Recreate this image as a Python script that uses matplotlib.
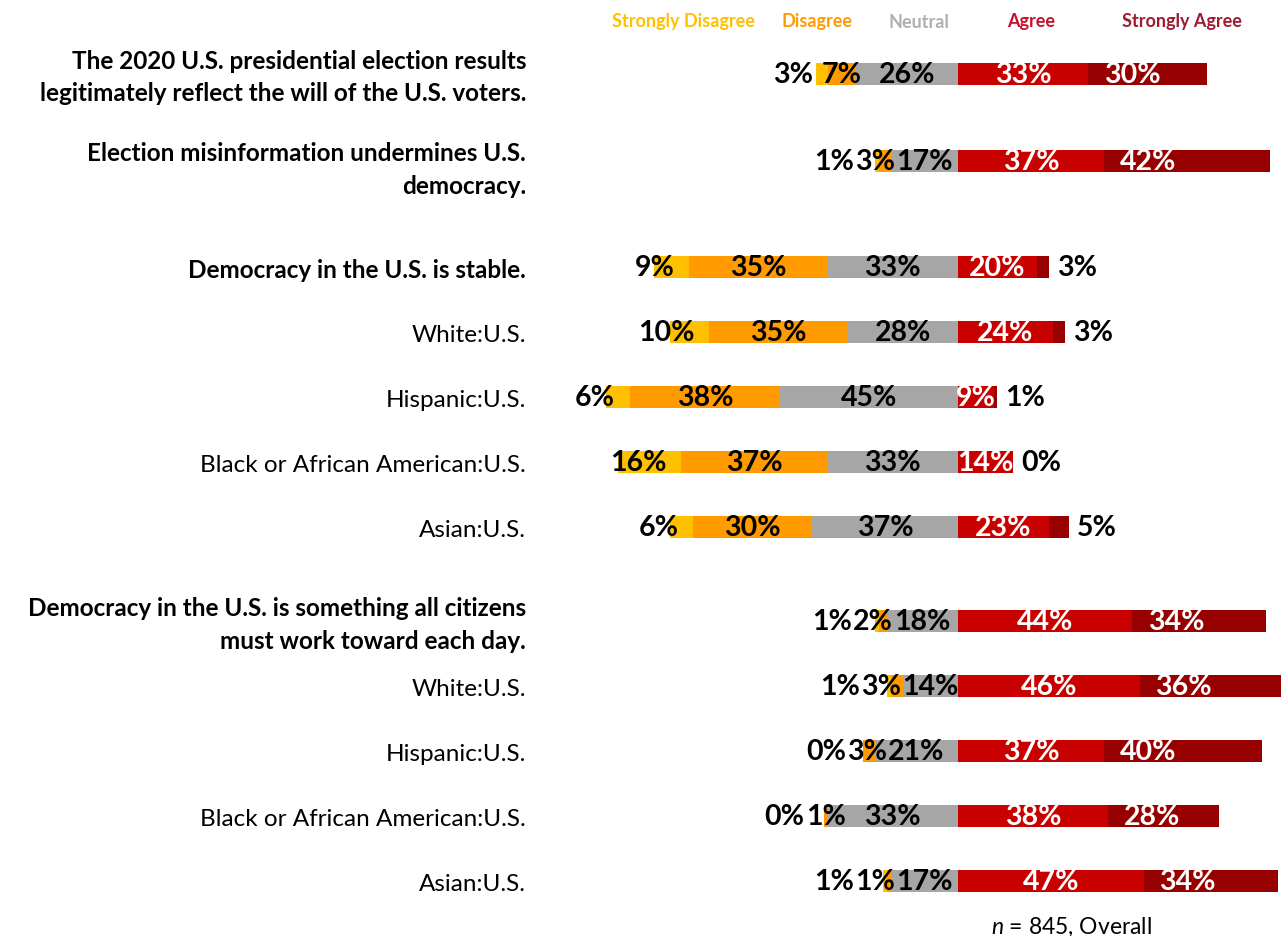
import numpy as np
import matplotlib.pyplot as plt

plt.rcParams['font.family'] = ['Lato', 'DejaVu Sans']
plt.rcParams['mathtext.fontset'] = 'custom'
plt.rcParams['mathtext.it'] = 'Lato:italic'
plt.rcParams['mathtext.rm'] = 'Lato'

# 数据
row_labels = [
    'The 2020 U.S. presidential election results\nlegitimately reflect the will of the U.S. voters.',
    'Election misinformation undermines U.S.\ndemocracy.',
    'Democracy in the U.S. is stable.',
    'White:U.S.',
    'Hispanic:U.S.',
    'Black or African American:U.S.',
    'Asian:U.S.',
    'Democracy in the U.S. is something all citizens\nmust work toward each day.',
    'White:U.S.',
    'Hispanic:U.S.',
    'Black or African American:U.S.',
    'Asian:U.S.',
]
is_question = [True, True, True, False, False, False, False, True, False, False, False, False]

strongly_disagree = [3, 1, 9, 10, 6, 16, 6, 1, 1, 0, 0, 1]
disagree = [7, 3, 35, 35, 38, 37, 30, 2, 3, 3, 1, 1]
neutral = [26, 17, 33, 28, 45, 33, 37, 18, 14, 21, 33, 17]
agree = [33, 37, 20, 24, 9, 14, 23, 44, 46, 37, 38, 47]
strongly_agree = [30, 42, 3, 3, 1, 0, 5, 34, 36, 40, 28, 34]

legend_names = ['Strongly Disagree', 'Disagree', 'Neutral', 'Agree', 'Strongly Agree']
note = '$n$ = 845, Overall'

# 颜色
c_sd, c_d, c_n, c_a, c_sa = '#FFC000', '#FF9A00', '#A6A6A6', '#C80000', '#960000'
legend_colors = ['#FFC000', '#FF9A00', '#AFAFAF', '#C8102E', '#9E1B32']

# 布局
W, H = 1281, 937
px_per_pct = 3.95
center_px = 958
row_px = 65
first_row_px = 75
extra_gap = {0: 0.34, 1: 0.63, 6: 0.45}

y = []
pos = 0.0
for i in range(len(row_labels)):
    y.append(pos)
    pos += 1 + extra_gap.get(i, 0)
y = np.array(y)

sd = np.array(strongly_disagree)
d = np.array(disagree)
n = np.array(neutral)
a = np.array(agree)
sa = np.array(strongly_agree)

fig = plt.figure(figsize=(W / 100, H / 100), dpi=100)
ax = fig.add_axes([0, 0, 1, 1])
ax.set_xlim(-center_px / px_per_pct, (W - center_px) / px_per_pct)
ax.set_ylim((H - first_row_px) / row_px, -first_row_px / row_px)
ax.axis('off')

bh = 22 / row_px
ax.barh(y, sd, left=-(n + d + sd), height=bh, color=c_sd)
ax.barh(y, d, left=-(n + d), height=bh, color=c_d)
ax.barh(y, n, left=-n, height=bh, color=c_n)
ax.barh(y, a, left=0, height=bh, color=c_a)
ax.barh(y, sa, left=a, height=bh, color=c_sa)

# 行标签
label_x = (526 - center_px) / px_per_pct
for i, (yi, lab, q) in enumerate(zip(y, row_labels, is_question)):
    yo = 0.12 if i == 1 else 0.04
    ax.text(label_x, yi + yo, lab, ha='right', va='center', multialignment='right',
            fontsize=17.5, fontweight='bold' if q else 'normal', linespacing=1.5)

# 数值标签
vfs = 20.5
renderer = fig.canvas.get_renderer()
inv = ax.transData.inverted()


def text_width(t):
    bb = t.get_window_extent(renderer)
    x0 = inv.transform((bb.x0, 0))[0]
    x1 = inv.transform((bb.x1, 0))[0]
    return x1 - x0


pad = 15 / px_per_pct
gap = 0.3
for i in range(len(y)):
    # 左侧：中立、不同意、非常不同意
    tn = ax.text(0, y[i], f'{n[i]}%', ha='center', va='center', fontsize=vfs, fontweight='bold')
    td = ax.text(0, y[i], f'{d[i]}%', ha='center', va='center', fontsize=vfs, fontweight='bold')
    ts = ax.text(0, y[i], f'{sd[i]}%', ha='center', va='center', fontsize=vfs, fontweight='bold')
    wn, wd, ws = text_width(tn), text_width(td), text_width(ts)
    cn = -n[i] / 2
    cd = -(n[i] + d[i] / 2)
    cs = -(n[i] + d[i]) - pad - ws / 2
    if cd + wd / 2 > cn - wn / 2 - gap:
        cd = cn - wn / 2 - gap - wd / 2
    if cs + ws / 2 > cd - wd / 2 - gap:
        cs = cd - wd / 2 - gap - ws / 2
    tn.set_x(cn)
    td.set_x(cd)
    ts.set_x(cs)

    # 右侧：同意、非常同意
    ta = ax.text(a[i] / 2, y[i], f'{a[i]}%', ha='center', va='center', fontsize=vfs,
                 fontweight='bold', color='white')
    wa = text_width(ta)
    tsa = ax.text(0, y[i], f'{sa[i]}%', ha='left', va='center', fontsize=vfs, fontweight='bold')
    wsa = text_width(tsa)
    if sa[i] >= wsa + 6:
        tsa.set_x(a[i] + 4)
        tsa.set_color('white')
    else:
        tsa.set_x(max(a[i] + sa[i], a[i] / 2 + wa / 2) + 2)
        tsa.set_color('black')

# 图例（彩色文字）
legend_x_px = [683, 817, 919, 1031, 1182]
for name, col, xp in zip(legend_names, legend_colors, legend_x_px):
    fig.text(xp / W, 1 - 22 / H, name, ha='center', va='center', fontsize=13,
             fontweight='bold', color=col)

fig.text(1071 / W, 1 - 927 / H, note, ha='center', va='center', fontsize=16.5)

fig.savefig('out.png', dpi=100)
